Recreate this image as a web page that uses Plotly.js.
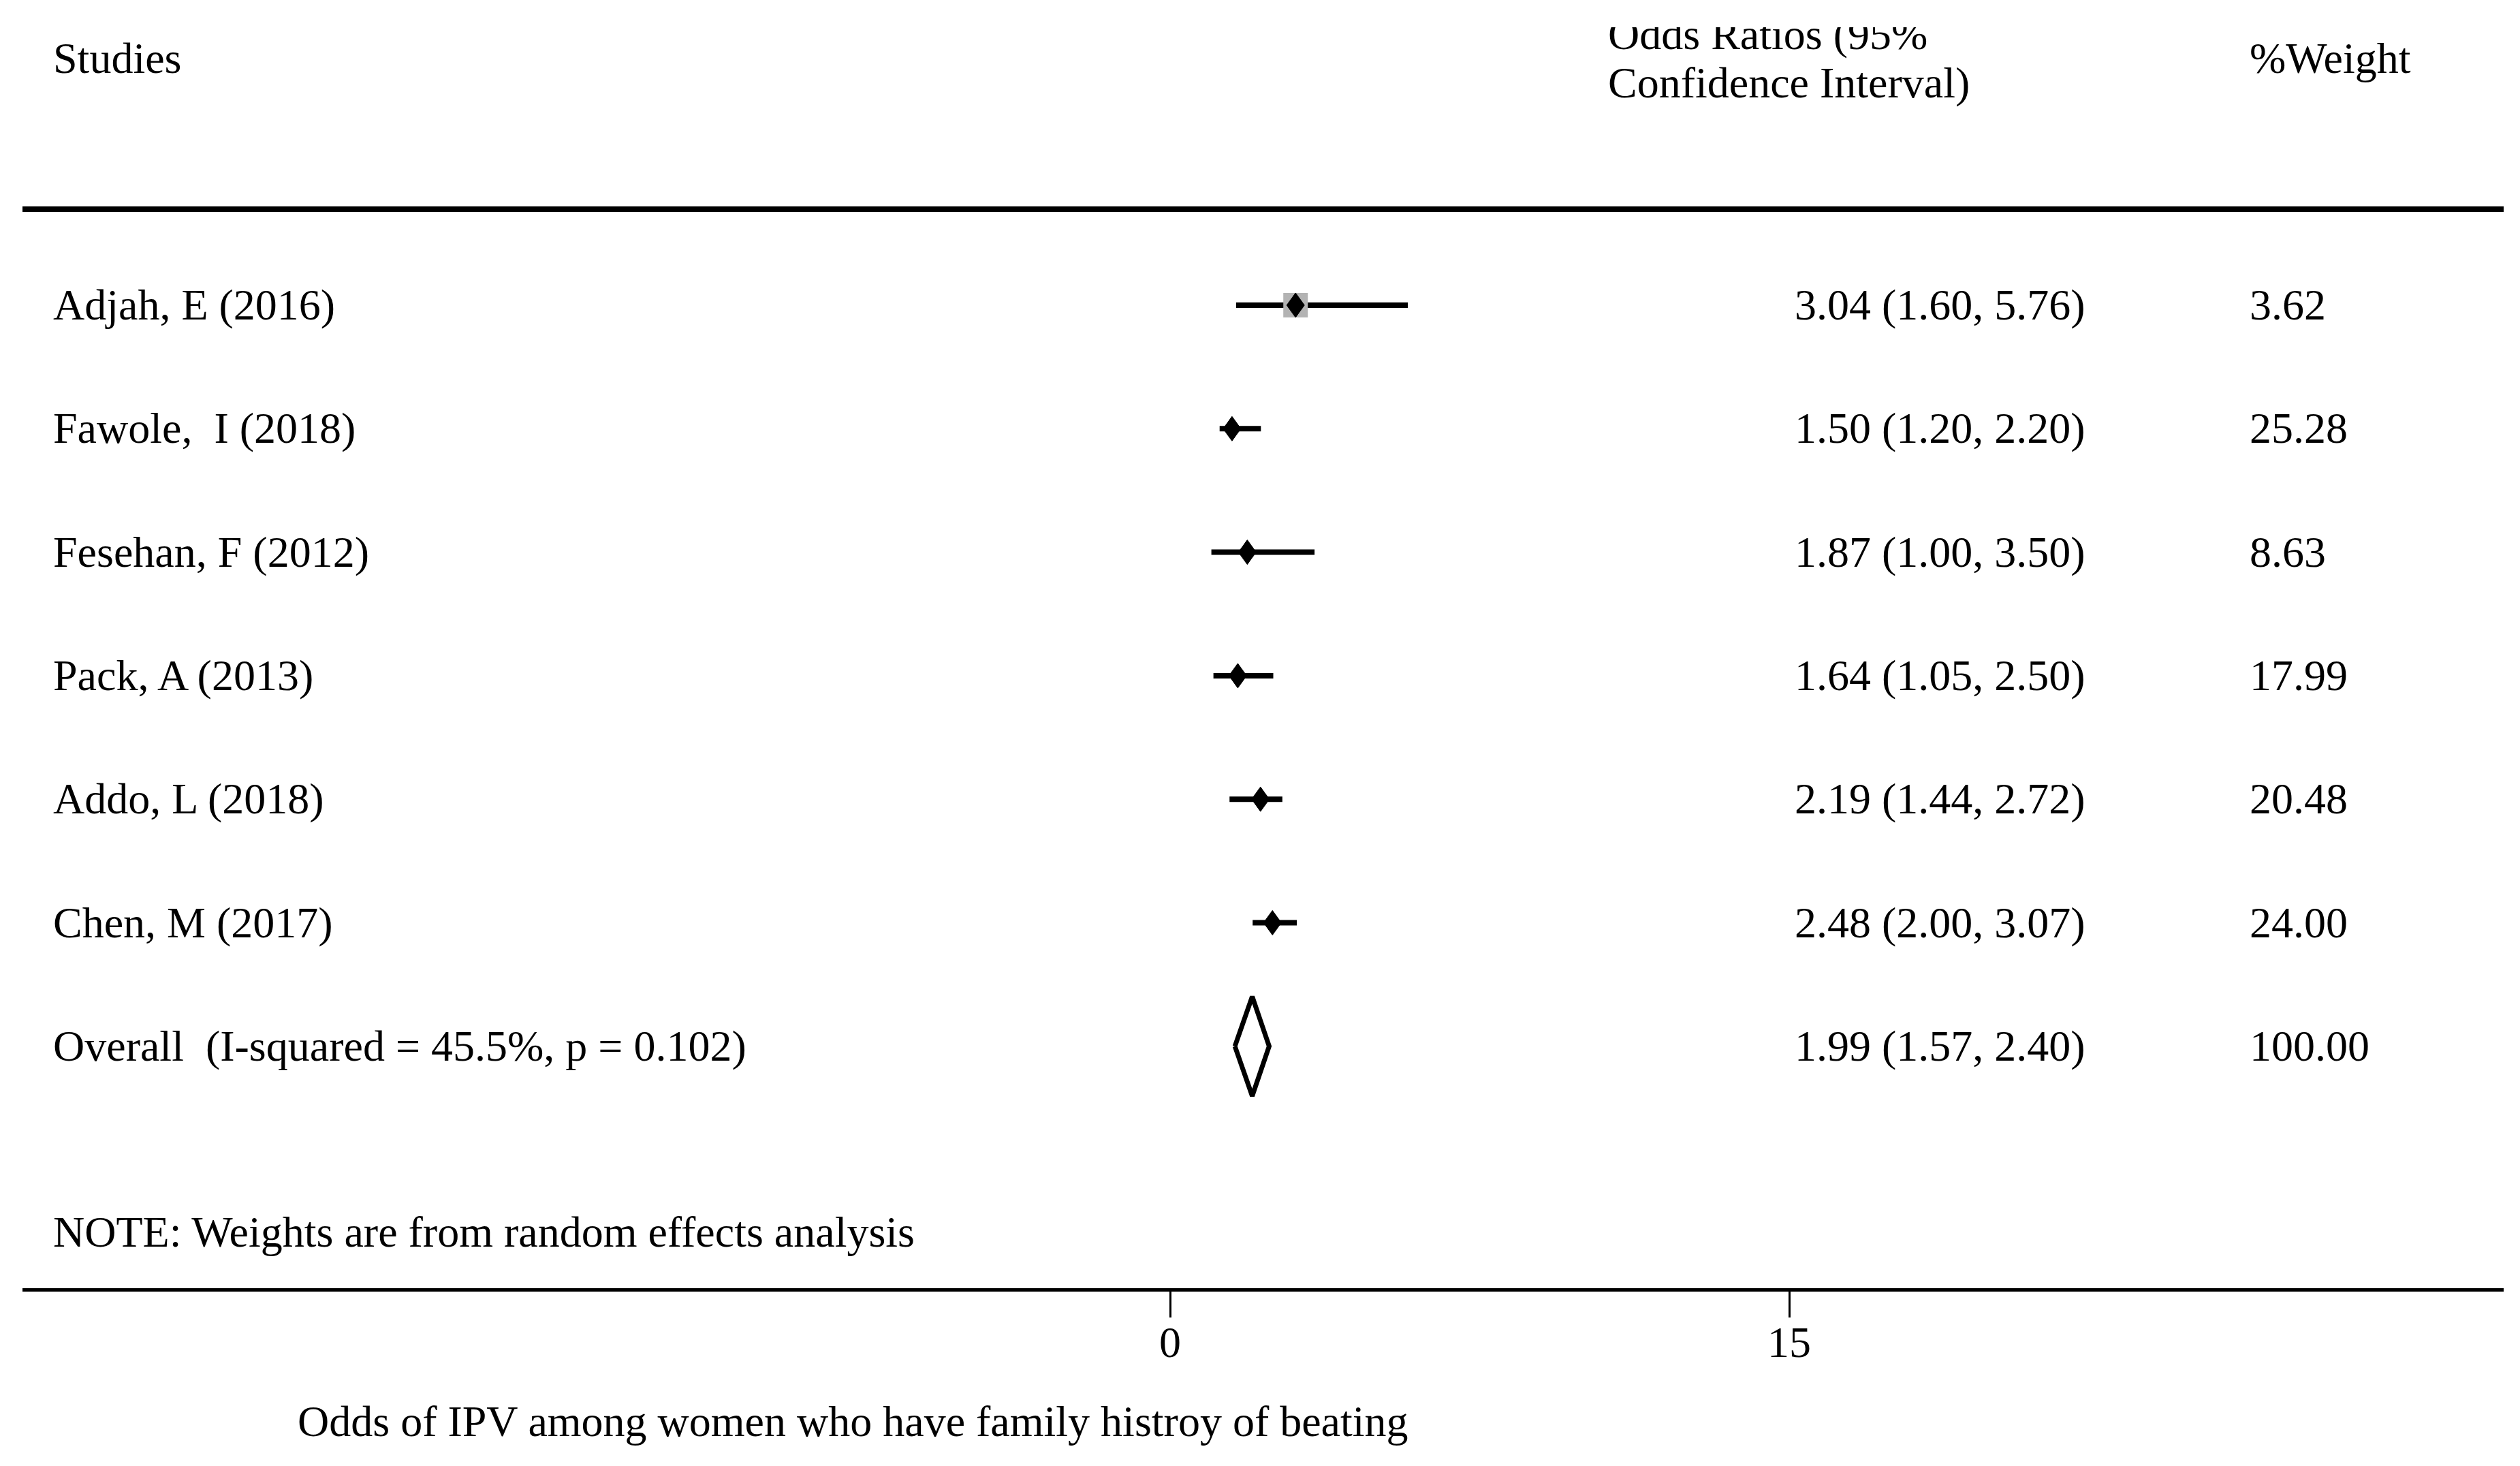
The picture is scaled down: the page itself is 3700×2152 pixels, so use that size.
<!DOCTYPE html>
<html>
<head>
<meta charset="utf-8">
<script src="https://cdn.plot.ly/plotly-3.0.1.min.js"></script>
<style>html,body{margin:0;padding:0;background:#fff;}#chart{width:3700px;height:2152px;}</style>
</head>
<body>
<div id="chart"></div>
<script>
// ---- data ----
const studies = ["Adjah, E (2016)", "Fawole,  I (2018)", "Fesehan, F (2012)", "Pack, A (2013)", "Addo, L (2018)", "Chen, M (2017)"];
const oddsRatio = [3.04, 1.50, 1.87, 1.64, 2.19, 2.48];
const ciLow = [1.60, 1.20, 1.00, 1.05, 1.44, 2.00];
const ciHigh = [5.76, 2.20, 3.50, 2.50, 2.72, 3.07];
const weights = [3.62, 25.28, 8.63, 17.99, 20.48, 24.00];
const overallLabel = "Overall  (I-squared = 45.5%, p = 0.102)";
const overallOR = 1.99;
const overallLow = 1.57;
const overallHigh = 2.40;
const overallWeight = 100.00;
const tickVals = [0, 15];
const tickLabels = ["0", "15"];
const headerStudies = "Studies";
const headerOR1 = "Odds Ratios (95%";
const headerOR2 = "Confidence Interval)";
const headerWeight = "%Weight";
const noteText = "NOTE: Weights are from random effects analysis";
const axisTitle = "Odds of IPV among women who have family histroy of beating";

// ---- geometry (pixel layout of the page) ----
const L = 33, R = 3676, T = 40, B = 1891;
const x0px = 1718, pxPerUnit = 60.6;
const row0 = 448, rowStep = 181.3;
const xd = px => (px - x0px) / pxPerUnit;
const yd = px => (px - row0) / rowStep;
const FONT = "Liberation Serif, Times New Roman, serif";
const FS = 64;
const textShift = 5 / rowStep;

const nS = studies.length;
const rowY = studies.map((s, i) => i);
const overallY = nS;

// CI lines
const ciX = [], ciY = [];
for (let i = 0; i < nS; i++) { ciX.push(ciLow[i], ciHigh[i], null); ciY.push(rowY[i], rowY[i], null); }

// point-estimate diamonds
const hw = 13 / pxPerUnit, hh = 18 / rowStep;
const dX = [], dY = [];
for (let i = 0; i < nS; i++) {
  const x = oddsRatio[i], y = rowY[i];
  dX.push(x - hw, x, x + hw, x, x - hw, null);
  dY.push(y, y - hh, y, y + hh, y, null);
}
// overall diamond
const ohh = 73 / rowStep;
const oX = [overallLow, overallOR, overallHigh, overallOR, overallLow];
const oY = [overallY, overallY - ohh, overallY, overallY + ohh, overallY];

const esText = oddsRatio.map((v, i) => v.toFixed(2) + " (" + ciLow[i].toFixed(2) + ", " + ciHigh[i].toFixed(2) + ")")
  .concat([overallOR.toFixed(2) + " (" + overallLow.toFixed(2) + ", " + overallHigh.toFixed(2) + ")"]);
const wText = weights.map(w => w.toFixed(2)).concat([overallWeight.toFixed(2)]);
const allY = rowY.concat([overallY]);
const textY = allY.map(y => y + textShift);

const txtFont = {family: FONT, size: FS, color: "#000"};

const traces = [
  {x: ciX, y: ciY, mode: "lines", line: {color: "#000", width: 8}, connectgaps: false, hoverinfo: "skip"},
  {x: [oddsRatio[0]], y: [rowY[0]], mode: "markers", marker: {symbol: "square", size: 36, color: "#b3b3b3"}, hoverinfo: "skip"},
  {x: dX, y: dY, mode: "lines", fill: "toself", fillcolor: "#000", line: {color: "#000", width: 1}, hoverinfo: "skip"},
  {x: oX, y: oY, mode: "lines", fill: "toself", fillcolor: "#fff", line: {color: "#000", width: 7}, hoverinfo: "skip"},
  {x: allY.map(() => xd(78)), y: textY, mode: "text", text: studies.concat([overallLabel]), textposition: "middle right", textfont: txtFont, cliponaxis: true, hoverinfo: "skip"},
  {x: allY.map(() => xd(2635)), y: textY, mode: "text", text: esText, textposition: "middle right", textfont: txtFont, cliponaxis: true, hoverinfo: "skip"},
  {x: allY.map(() => xd(3303)), y: textY, mode: "text", text: wText, textposition: "middle right", textfont: txtFont, cliponaxis: true, hoverinfo: "skip"},
  {x: [xd(78), xd(2361), xd(2361), xd(3303), xd(78)], y: [yd(91), yd(56), yd(127), yd(91), yd(1814)],
   mode: "text", text: [headerStudies, headerOR1, headerOR2, headerWeight, noteText], textposition: "middle right",
   textfont: txtFont, cliponaxis: true, hoverinfo: "skip"}
];

const layout = {
  width: 3700, height: 2152,
  margin: {l: L, r: 3700 - R, t: T, b: 2152 - B, pad: 0},
  paper_bgcolor: "#fff", plot_bgcolor: "#fff",
  showlegend: false,
  font: {family: FONT, size: FS, color: "#000"},
  xaxis: {
    range: [xd(L), xd(R)], showgrid: false, zeroline: false,
    showline: true, linecolor: "#000", linewidth: 5,
    ticks: "outside", ticklen: 38, tickwidth: 3, tickcolor: "#000",
    tickmode: "array", tickvals: tickVals, ticktext: tickLabels,
    ticklabelstandoff: -19,
    tickfont: {family: FONT, size: FS, color: "#000"}, fixedrange: true
  },
  yaxis: {range: [yd(B), yd(T)], visible: false, fixedrange: true},
  shapes: [
    {type: "line", xref: "paper", x0: 0, x1: 1, yref: "y", y0: yd(307), y1: yd(307), line: {color: "#000", width: 8}}
  ],
  annotations: [
    {text: axisTitle, xref: "paper", yref: "paper", x: (435 - L) / (R - L), y: (B - 2086) / (B - T),
     xanchor: "left", yanchor: "middle", showarrow: false, font: {family: FONT, size: FS, color: "#000"}}
  ]
};

Plotly.newPlot("chart", traces, layout, {staticPlot: true, displayModeBar: false});
</script>
</body>
</html>
